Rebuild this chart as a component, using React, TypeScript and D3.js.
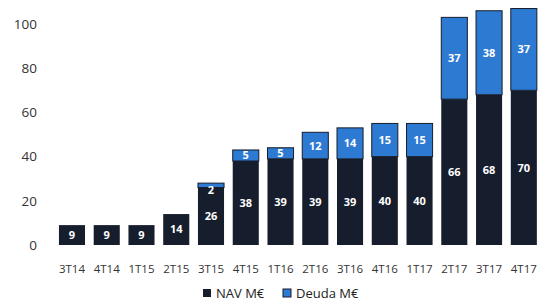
import React from 'react'
import * as d3 from 'd3'

const quarters = ['3T14', '4T14', '1T15', '2T15', '3T15', '4T15', '1T16', '2T16', '3T16', '4T16', '1T17', '2T17', '3T17', '4T17']
const nav = [9, 9, 9, 14, 26, 38, 39, 39, 39, 40, 40, 66, 68, 70]
const deuda = [0, 0, 0, 0, 2, 5, 5, 12, 14, 15, 15, 37, 38, 37]
const yTicks = [0, 20, 40, 60, 80, 100]
const seriesNames = ['NAV M€', 'Deuda M€']

const navColor = '#161d2c'
const deudaColor = '#2d7ad2'
const font = '"Open Sans", sans-serif'

const App = () => {
    const width = 546
    const height = 304

    const x = d3.scaleBand<string>()
        .domain(quarters)
        .range([54.6, 541.2])
        .paddingInner(0.25)
        .paddingOuter(0.125)

    const y = d3.scaleLinear()
        .domain([0, 100])
        .range([245, 24])

    const bw = x.bandwidth()

    return (
        <svg width={width} height={height} style={{ position: 'absolute', left: 0, top: 0, background: '#fff' }}>
            {yTicks.map(t => (
                <text key={`yt-${t}`} x={37} y={y(t)} dy="0.35em" textAnchor="end"
                      fontFamily={font} fontSize={13.5} fill="#333">{t}</text>
            ))}
            {quarters.map((q, i) => {
                const bx = x(q) as number
                const yNav = y(nav[i])
                const yTop = y(nav[i] + deuda[i])
                // tiny segment (3T15): label hangs a bit below, like in the original
                const dLabelY = (yNav - yTop) < 6 ? yNav + 2 : (yNav + yTop) / 2
                return (
                    <g key={`bar-${q}`}>
                        <rect x={bx} y={yNav} width={bw} height={y(0) - yNav} fill={navColor}/>
                        {deuda[i] > 0 &&
                            <rect x={bx} y={yTop} width={bw} height={yNav - yTop} fill={deudaColor}
                                  stroke={navColor} strokeWidth={1}/>}
                        <text x={bx + bw / 2} y={(y(0) + yNav) / 2} dy="0.36em" textAnchor="middle"
                              fontFamily={font} fontWeight="bold" fontSize={11} fill="#fff">{nav[i]}</text>
                        {deuda[i] > 0 &&
                            <text x={bx + bw / 2} y={dLabelY} dy="0.36em" textAnchor="middle"
                                  fontFamily={font} fontWeight="bold" fontSize={11} fill="#fff">{deuda[i]}</text>}
                        <text x={bx + bw / 2} y={269} dy="0.35em" textAnchor="middle"
                              fontFamily={font} fontSize={11.5} fill="#333">{q}</text>
                    </g>
                )
            })}
            <g transform="translate(203, 293)">
                <rect x={0} y={-4} width={8} height={8} fill={navColor}/>
                <text x={13} y={0} dy="0.35em" fontFamily={font} fontSize={13} fill="#222">{seriesNames[0]}</text>
            </g>
            <g transform="translate(283, 293)">
                <rect x={0} y={-4} width={8} height={8} fill={deudaColor} stroke={navColor} strokeWidth={1}/>
                <text x={13} y={0} dy="0.35em" fontFamily={font} fontSize={13} fill="#222">{seriesNames[1]}</text>
            </g>
        </svg>
    )
}

export default App
